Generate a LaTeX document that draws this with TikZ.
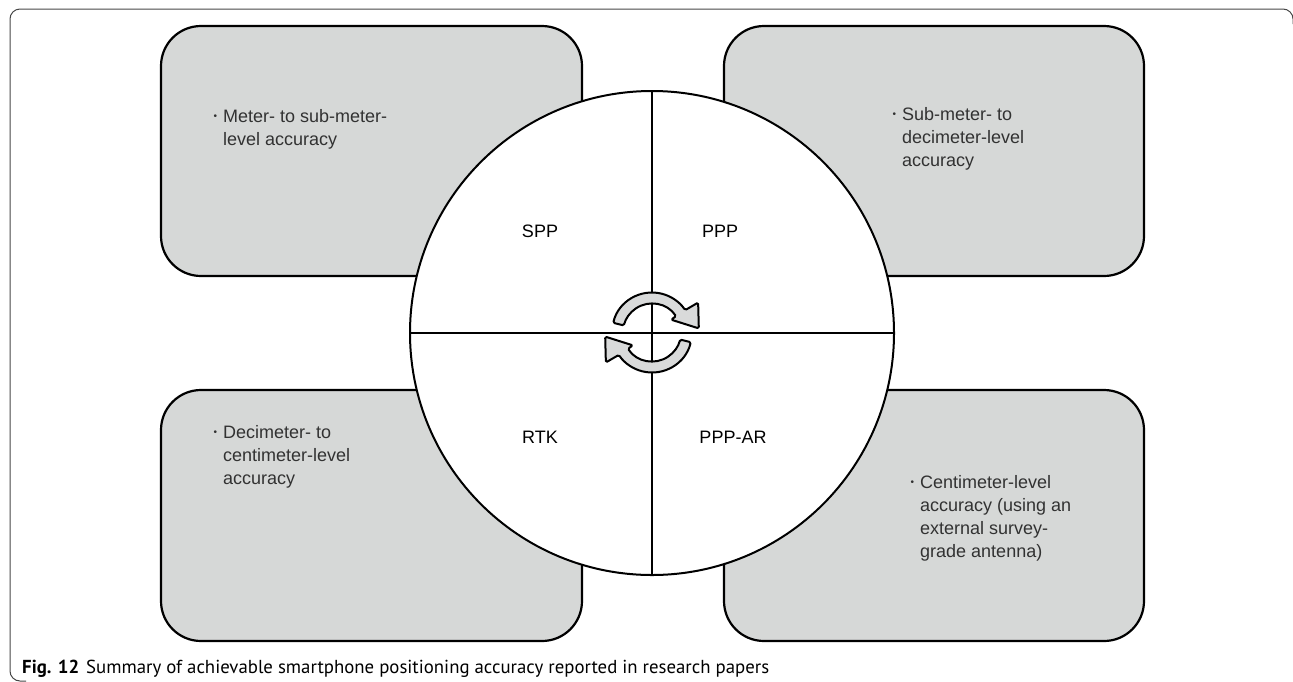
\documentclass[tikz,border=0pt]{standalone}
\usepackage{fontspec}
\setmainfont{Liberation Sans}
\newfontfamily\capfont{PT Sans}
\usetikzlibrary{calc}
\definecolor{boxgray}{RGB}{214,216,215}
\definecolor{icongray}{RGB}{217,218,218}
\definecolor{txtgray}{RGB}{50,50,50}
\definecolor{framegray}{RGB}{70,70,70}
\newcommand{\bul}{\makebox[0pt][r]{\raisebox{2.5pt}{\fontsize{10}{10}\selectfont\textbullet}\hspace{6pt}}}
\tikzset{
  infobox/.style={draw=black, line width=2.2pt, fill=boxgray, rounded corners=40pt},
  infotext/.style={anchor=base west, inner sep=0pt, text=txtgray, font=\fontsize{18}{23}\selectfont},
  qlabel/.style={anchor=base, inner sep=0pt, font=\fontsize{18}{23}\selectfont},
  cycarrow/.style={draw=black, line width=2pt, fill=icongray, line join=round, rounded corners=1.5pt},
}
\begin{document}
\begin{tikzpicture}[x=1pt,y=-1pt]
\useasboundingbox (0,0) rectangle (1293,681);
% frame
\draw[framegray, line width=1pt, rounded corners=10pt] (1293,24) -- (1293,9) -- (10,9) -- (10,681) -- (26,681);
% boxes
\draw[infobox] (161,26) rectangle (582,276);
\draw[infobox] (724,26) rectangle (1144,276);
\draw[infobox] (161,390) rectangle (582,641);
\draw[infobox] (724,390) rectangle (1144,641);
% circle
\coordinate (C) at (652,333);
\node[circle, draw=black, line width=2pt, fill=white, minimum size=484pt, inner sep=0pt] (circ) at (C) {};
\draw[black, line width=2pt] (circ.north) -- (circ.south);
\draw[black, line width=2pt] (circ.west) -- (circ.east);
% cycle arrows
\begin{scope}[shift={(652,332.5)}]
\draw[cycarrow] (194:40) arc[start angle=194,end angle=326,radius=40] -- (327:55) -- (355:47) -- (326:23) -- (326:29) arc[start angle=326,end angle=194,radius=29] -- cycle;
\begin{scope}[rotate=180]
\draw[cycarrow] (194:40) arc[start angle=194,end angle=326,radius=40] -- (327:55) -- (355:47) -- (326:23) -- (326:29) arc[start angle=326,end angle=194,radius=29] -- cycle;
\end{scope}
\end{scope}
% quadrant labels
\node[qlabel] (spp) at (540,237) {SPP};
\node[qlabel] (ppp) at (720,237) {PPP};
\node[qlabel] (rtk) at (540,443) {RTK};
\node[qlabel] (pppar) at (733,443) {PPP-AR};
% box texts
\node[infotext] (t1) at (223,122) {\begin{tabular}[t]{@{}l@{}}\bul Meter- to sub-meter-\\level accuracy\end{tabular}};
\node[infotext] (t2) at (902,120) {\begin{tabular}[t]{@{}l@{}}\bul Sub-meter- to\\decimeter-level\\accuracy\end{tabular}};
\node[infotext] (t3) at (223,438) {\begin{tabular}[t]{@{}l@{}}\bul Decimeter- to\\centimeter-level\\accuracy\end{tabular}};
\node[infotext] (t4) at (920,488) {\begin{tabular}[t]{@{}l@{}}\bul Centimeter-level\\accuracy (using an\\external survey-\\grade antenna)\end{tabular}};
% caption
\node[anchor=base west, inner sep=0pt, font=\capfont\fontsize{18.8}{21}\selectfont] (cap) at (22,673) {\textbf{Fig. 12}\hspace{7pt}Summary of achievable smartphone positioning accuracy reported in research papers};
\end{tikzpicture}
\end{document}
